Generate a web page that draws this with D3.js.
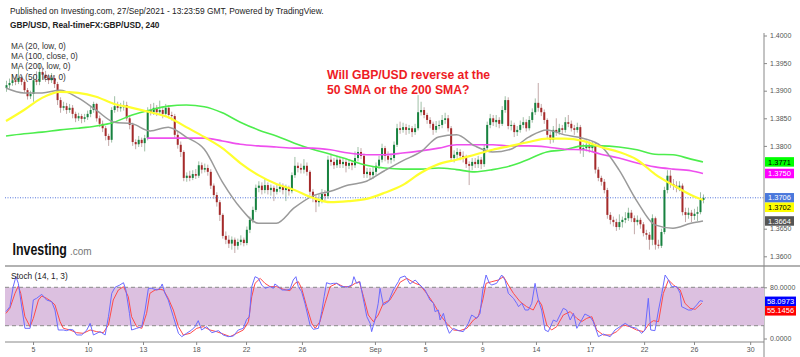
<!DOCTYPE html>
<html><head><meta charset="utf-8">
<script src="https://cdn.jsdelivr.net/npm/d3@7"></script>
<style>body{margin:0;background:#fff}svg{display:block;font-family:"Liberation Sans",Arial,sans-serif}</style>
</head><body><svg id="c" width="800" height="357"></svg>
<script>
// ---------- DATA ----------
const firstOpen = 1.3905;
const closes = [1.3910,1.3914,1.3919,1.3916,1.3923,1.3916,1.3901,1.3890,1.3894,1.3919,
1.3916,1.3934,1.3929,1.3923,1.3919,1.3923,1.3912,1.3883,1.3869,1.3872,
1.3865,1.3869,1.3858,1.3850,1.3854,1.3849,1.3852,1.3858,1.3865,1.3876,
1.3850,1.3840,1.3832,1.3818,1.3811,1.3865,1.3872,1.3869,1.3870,1.3874,
1.3850,1.3838,1.3807,1.3803,1.3811,1.3805,1.3814,1.3865,1.3861,1.3869,
1.3861,1.3865,1.3858,1.3869,1.3856,1.3854,1.3820,1.3802,1.3789,1.3742,
1.3746,1.3742,1.3749,1.3746,1.3765,1.3757,1.3760,1.3753,1.3728,1.3711,
1.3698,1.3675,1.3637,1.3630,1.3623,1.3630,1.3619,1.3626,1.3630,1.3624,
1.3648,1.3666,1.3684,1.3724,1.3728,1.3720,1.3729,1.3720,1.3724,1.3717,
1.3722,1.3726,1.3720,1.3724,1.3718,1.3747,1.3764,1.3760,1.3757,1.3764,
1.3753,1.3717,1.3706,1.3698,1.3702,1.3713,1.3709,1.3775,1.3771,1.3765,
1.3775,1.3767,1.3771,1.3764,1.3769,1.3765,1.3778,1.3789,1.3782,1.3749,
1.3753,1.3747,1.3753,1.3764,1.3775,1.3796,1.3782,1.3775,1.3778,1.3802,
1.3832,1.3829,1.3834,1.3829,1.3832,1.3825,1.3832,1.3861,1.3865,1.3856,
1.3847,1.3840,1.3829,1.3836,1.3838,1.3847,1.3850,1.3832,1.3778,1.3784,
1.3789,1.3782,1.3778,1.3767,1.3764,1.3771,1.3767,1.3775,1.3767,1.3796,
1.3838,1.3850,1.3843,1.3847,1.3840,1.3865,1.3883,1.3836,1.3838,1.3825,
1.3829,1.3838,1.3843,1.3832,1.3847,1.3861,1.3878,1.3869,1.3861,1.3847,
1.3820,1.3811,1.3829,1.3825,1.3832,1.3829,1.3843,1.3840,1.3832,1.3829,
1.3834,1.3793,1.3796,1.3802,1.3796,1.3802,1.3757,1.3742,1.3735,1.3720,
1.3675,1.3666,1.3662,1.3653,1.3662,1.3666,1.3669,1.3679,1.3669,1.3662,
1.3666,1.3658,1.3642,1.3639,1.3630,1.3669,1.3621,1.3619,1.3644,1.3720,
1.3746,1.3731,1.3728,1.3724,1.3728,1.3680,1.3675,1.3679,1.3673,1.3677,
1.3680,1.3702,1.3706];
const highs = [1.3918,1.3922,1.3930,1.3925,1.3940,1.3928,1.3920,1.3905,1.3900,1.3926,
1.3935,1.3948,1.3944,1.3936,1.3930,1.3932,1.3928,1.3916,1.3888,1.3880,
1.3878,1.3876,1.3874,1.3862,1.3860,1.3858,1.3858,1.3864,1.3872,1.3880,
1.3878,1.3855,1.3846,1.3836,1.3822,1.3870,1.3890,1.3880,1.3878,1.3882,
1.3880,1.3855,1.3842,1.3812,1.3818,1.3815,1.3820,1.3870,1.3876,1.3878,
1.3874,1.3882,1.3870,1.3876,1.3874,1.3862,1.3858,1.3826,1.3808,1.3792,
1.3752,1.3755,1.3756,1.3758,1.3772,1.3770,1.3768,1.3766,1.3758,1.3732,
1.3716,1.3702,1.3678,1.3645,1.3638,1.3636,1.3634,1.3632,1.3638,1.3634,
1.3654,1.3672,1.3690,1.3730,1.3736,1.3734,1.3740,1.3734,1.3730,1.3728,
1.3730,1.3734,1.3732,1.3730,1.3728,1.3752,1.3780,1.3770,1.3768,1.3776,
1.3770,1.3756,1.3722,1.3710,1.3712,1.3722,1.3720,1.3782,1.3786,1.3778,
1.3782,1.3780,1.3778,1.3776,1.3776,1.3774,1.3790,1.3798,1.3796,1.3786,
1.3760,1.3760,1.3762,1.3770,1.3782,1.3804,1.3800,1.3790,1.3786,1.3808,
1.3840,1.3844,1.3842,1.3840,1.3838,1.3836,1.3840,1.3892,1.3880,1.3870,
1.3860,1.3852,1.3844,1.3845,1.3846,1.3856,1.3860,1.3856,1.3836,1.3792,
1.3796,1.3794,1.3790,1.3784,1.3772,1.3778,1.3778,1.3782,1.3780,1.3802,
1.3844,1.3858,1.3856,1.3856,1.3852,1.3872,1.3890,1.3888,1.3846,1.3842,
1.3836,1.3846,1.3852,1.3848,1.3854,1.3868,1.3886,1.3914,1.3876,1.3866,
1.3850,1.3826,1.3836,1.3850,1.3840,1.3838,1.3852,1.3856,1.3846,1.3838,
1.3842,1.3838,1.3804,1.3810,1.3808,1.3808,1.3806,1.3762,1.3746,1.3740,
1.3724,1.3680,1.3672,1.3668,1.3676,1.3672,1.3680,1.3688,1.3684,1.3674,
1.3674,1.3670,1.3662,1.3648,1.3644,1.3676,1.3672,1.3630,1.3650,1.3726,
1.3756,1.3756,1.3740,1.3736,1.3736,1.3732,1.3688,1.3688,1.3684,1.3686,
1.3690,1.3716,1.3712];
const lows = [1.3898,1.3904,1.3909,1.3910,1.3912,1.3910,1.3896,1.3884,1.3885,1.3880,
1.3910,1.3910,1.3920,1.3916,1.3912,1.3914,1.3905,1.3874,1.3860,1.3864,
1.3858,1.3860,1.3850,1.3843,1.3845,1.3841,1.3843,1.3847,1.3852,1.3860,
1.3844,1.3834,1.3825,1.3810,1.3800,1.3806,1.3860,1.3862,1.3862,1.3864,
1.3845,1.3830,1.3800,1.3794,1.3798,1.3798,1.3790,1.3810,1.3855,1.3856,
1.3854,1.3856,1.3850,1.3852,1.3850,1.3846,1.3815,1.3795,1.3780,1.3736,
1.3735,1.3736,1.3738,1.3740,1.3742,1.3750,1.3752,1.3746,1.3722,1.3704,
1.3690,1.3664,1.3632,1.3622,1.3615,1.3612,1.3606,1.3612,1.3620,1.3618,
1.3620,1.3642,1.3660,1.3680,1.3716,1.3712,1.3714,1.3712,1.3710,1.3700,
1.3712,1.3716,1.3712,1.3700,1.3710,1.3714,1.3742,1.3752,1.3750,1.3750,
1.3746,1.3710,1.3698,1.3680,1.3690,1.3696,1.3700,1.3704,1.3764,1.3758,
1.3760,1.3760,1.3760,1.3752,1.3758,1.3756,1.3760,1.3772,1.3776,1.3742,
1.3742,1.3740,1.3740,1.3746,1.3758,1.3770,1.3772,1.3768,1.3768,1.3772,
1.3798,1.3822,1.3824,1.3820,1.3822,1.3816,1.3820,1.3828,1.3855,1.3850,
1.3840,1.3832,1.3820,1.3824,1.3830,1.3832,1.3840,1.3826,1.3772,1.3770,
1.3776,1.3774,1.3770,1.3760,1.3729,1.3756,1.3760,1.3760,1.3758,1.3762,
1.3790,1.3832,1.3836,1.3834,1.3832,1.3836,1.3860,1.3830,1.3828,1.3816,
1.3818,1.3824,1.3832,1.3826,1.3828,1.3842,1.3856,1.3862,1.3854,1.3840,
1.3814,1.3804,1.3806,1.3818,1.3820,1.3822,1.3824,1.3834,1.3826,1.3820,
1.3824,1.3786,1.3780,1.3790,1.3788,1.3790,1.3750,1.3736,1.3728,1.3714,
1.3668,1.3658,1.3654,1.3646,1.3648,1.3652,1.3660,1.3664,1.3662,1.3640,
1.3656,1.3650,1.3636,1.3630,1.3612,1.3620,1.3612,1.3614,1.3615,1.3640,
1.3714,1.3724,1.3720,1.3716,1.3718,1.3674,1.3662,1.3668,1.3662,1.3666,
1.3664,1.3676,1.3696];

const maBars = [0,6,12,18,24,30,36,42,48,54,60,66,72,78,84,90,96,102,108,114,120,126,132,138,144,150,156,162,168,174,180,186,192,198,204,210,216,222,228,232];
const ma20 = [1.3905,1.3896,1.3896,1.3901,1.3887,1.3865,1.3843,1.3840,1.3827,1.3834,1.3816,1.3794,1.3735,1.3688,1.3660,1.3660,1.3688,1.3709,1.3718,1.3729,1.3736,1.3755,1.3773,1.3789,1.3816,1.3820,1.3800,1.3789,1.3794,1.3816,1.3829,1.3820,1.3814,1.3800,1.3757,1.3700,1.3657,1.3651,1.3660,1.3664];
const ma50 = [1.3845,1.3865,1.3887,1.3898,1.3896,1.3889,1.3876,1.3869,1.3861,1.3852,1.3834,1.3816,1.3796,1.3769,1.3747,1.3731,1.3720,1.3706,1.3698,1.3700,1.3704,1.3715,1.3729,1.3751,1.3767,1.3775,1.3784,1.3793,1.3800,1.3807,1.3813,1.3813,1.3809,1.3798,1.3789,1.3775,1.3749,1.3729,1.3711,1.3702];
const ma100 = [1.3818,1.3822,1.3825,1.3829,1.3832,1.3836,1.3843,1.3856,1.3865,1.3872,1.3874,1.3871,1.3860,1.3843,1.3829,1.3818,1.3805,1.3794,1.3785,1.3775,1.3765,1.3760,1.3758,1.3758,1.3760,1.3757,1.3753,1.3757,1.3764,1.3776,1.3789,1.3793,1.3800,1.3800,1.3798,1.3793,1.3785,1.3784,1.3776,1.3771];
const ma200Bars = [47,48,54,60,66,72,78,84,90,96,102,108,114,120,126,132,138,144,150,156,162,168,174,180,186,192,198,204,210,216,222,228,232];
const ma200 = [1.3814,1.3814,1.3814,1.3814,1.3814,1.3809,1.3803,1.3800,1.3798,1.3796,1.3796,1.3793,1.3787,1.3784,1.3784,1.3787,1.3791,1.3796,1.3802,1.3802,1.3802,1.3800,1.3800,1.3798,1.3794,1.3793,1.3785,1.3778,1.3769,1.3762,1.3758,1.3755,1.3750];

const stochK = [[0,42.0],[1.3,49.7],[2.4,81.0],[3.3,96.6],[4.1,86.2],[4.9,60.2],[6.3,15.9],[8.0,15.9],[9.1,60.2],[10.2,62.8],
[11.9,69.0],[13.5,60.2],[15.2,57.6],[16.3,44.5],[17.4,13.3],[19.1,13.3],[20.2,12.3],[21.3,14.3],[22.4,13.3],[23.5,5.5],
[25.2,5.5],[26.9,13.3],[28.0,23.7],[29.1,5.5],[31.3,10.7],[33.0,5.5],[34.1,34.1],[35.2,70.6],[36.3,80.0],[37.9,83.6],
[39.1,87.2],[39.9,75.8],[41.1,39.3],[41.8,13.3],[43.5,15.9],[45.2,18.5],[46.3,44.5],[47.4,78.4],[48.5,78.4],[50.2,75.8],
[51.3,78.4],[52.0,85.2],[52.9,70.6],[54.0,60.2],[55.7,34.1],[57.4,8.1],[58.5,2.9],[60.1,8.1],[61.8,13.3],[62.9,18.5],
[64.0,27.9],[65.1,13.3],[66.8,18.5],[68.5,9.1],[70.7,12.3],[72.3,5.5],[74.0,2.9],[75.7,3.9],[77.3,13.3],[79.0,15.9],
[80.1,30.0],[81.0,34.1],[81.8,81.0],[82.9,96.6],[84.0,94.0],[85.1,83.6],[86.2,78.4],[87.9,81.0],[89.0,78.4],[89.5,85.2],
[90.7,81.0],[91.8,75.8],[93.4,75.8],[94.5,76.8],[95.6,91.4],[96.5,96.6],[97.3,81.0],[98.4,73.2],[99.5,55.0],[101.2,21.1],
[102.3,14.3],[104.0,15.9],[105.1,42.0],[105.9,65.4],[106.7,87.2],[107.9,85.2],[109.0,86.2],[110.1,86.2],[111.2,82.0],[113.4,80.0],
[115.1,83.6],[115.8,96.6],[116.7,86.2],[117.8,88.8],[119.0,60.2],[120.1,34.1],[121.2,23.7],[121.7,10.7],[122.8,28.9],[123.9,55.0],
[124.5,78.4],[125.6,52.4],[127.3,57.6],[128.9,75.8],[130.6,88.8],[131.2,95.0],
[132.8,97.7],[134.5,85.2],[136.2,91.4],[137.8,83.6],[139.5,75.8],[141.1,60.2],[142.3,55.0],[142.8,42.0],[143.9,44.5],[144.5,28.9],
[145.6,39.3],[146.7,18.5],[147.6,8.1],[148.9,15.9],[150.6,12.3],[152.2,10.7],[153.9,23.7],[155.0,36.7],[156.7,31.5],[157.8,39.3],
[158.7,75.8],[159.8,99.2],[160.9,86.2],[161.7,83.6],[163.3,86.2],[165.0,99.2],[166.1,91.4],[167.2,70.6],[168.9,62.8],[170.0,55.0],
[170.6,49.7],[171.7,55.0],[172.8,44.5],[173.9,44.5],[175.0,55.0],[176.1,86.2],[177.2,60.2],[178.3,44.5],[179.4,13.3],[180.5,10.7],
[182.2,28.9],[183.3,26.3],[185.5,47.2],[186.6,44.5],[187.8,28.9],[188.9,39.3],[190.0,15.9],[191.6,28.9],[192.7,38.3],[194.4,34.1],
[195.5,26.3],[197.2,2.9],[198.8,7.0],[201.1,2.9],[202.7,13.3],[204.4,18.5],[206.1,23.7],[207.7,18.5],[209.9,15.9],[211.6,8.1],
[212.7,13.3],[213.8,62.8],[214.6,13.3],[216.0,12.3],[217.2,44.5],[218.3,70.6],[219.4,99.2],[220.5,91.4],[221.6,81.0],[223.3,81.0],
[224.4,70.6],[224.9,49.7],[226.0,47.2],[227.1,44.5],[228.3,44.5],[229.9,52.4],[231.0,59.1],[232.0,58.1]];
const stochD = [[0,39.3],[1.3,47.2],[3.0,70.6],[4.1,82.0],[4.9,70.6],[6.3,34.1],[8.0,18.5],[9.1,31.5],[10.8,60.2],[11.9,66.4],
[13.5,62.8],[15.2,57.6],[16.3,52.4],[18.0,26.3],[19.1,15.9],[21.3,13.3],[23.5,9.1],[25.7,8.1],[28.0,13.3],[30.2,10.7],
[32.4,9.1],[34.1,21.1],[35.7,60.2],[37.4,75.8],[39.1,81.0],[40.7,65.4],[41.8,34.1],[43.5,18.5],[45.2,15.9],[46.8,39.3],
[47.9,70.6],[49.6,75.8],[51.3,76.8],[52.4,75.8],[54.0,62.8],[55.7,44.5],[57.4,18.5],[59.0,5.5],[61.3,8.1],[63.5,15.9],
[65.7,18.5],[67.9,13.3],[70.1,10.7],[72.3,7.0],[74.6,2.9],[76.8,8.1],[79.0,13.3],[80.7,26.3],[81.8,65.4],[82.9,86.2],
[84.6,94.0],[86.2,86.2],[87.9,81.0],[90.1,81.0],[92.3,76.8],[94.5,74.7],[96.2,86.2],[97.3,88.8],[98.4,78.4],[100.1,49.7],
[101.8,23.7],[102.9,15.9],[104.5,26.3],[106.2,55.0],[107.9,81.0],[110.1,86.2],[112.3,81.0],[114.5,81.0],[116.2,86.2],[117.6,88.8],
[119.0,65.4],[120.6,36.7],[122.3,26.3],[123.9,36.7],[125.6,55.0],[127.8,60.2],[129.5,73.2],[131.2,88.0],[133.4,94.0],[136.2,86.2],
[137.8,83.6],[140.0,70.6],[142.3,55.0],[144.5,36.7],[146.7,23.7],[148.9,13.3],[151.1,12.3],[153.4,15.9],[155.6,28.9],[157.2,34.1],
[158.7,60.2],[159.8,86.2],[161.7,88.8],[163.9,91.4],[165.6,96.6],[167.2,83.6],[168.9,70.6],[171.1,57.6],[173.3,49.7],[175.5,44.5],
[177.2,60.2],[178.3,52.4],[180.0,21.1],[181.6,13.3],[183.3,18.5],[185.5,36.7],[187.8,42.0],[190.0,31.5],[191.6,26.3],[193.3,31.5],
[195.0,34.1],[196.6,13.3],[198.8,5.5],[201.1,5.5],[203.3,10.7],[205.5,21.1],[207.7,18.5],[209.9,13.3],[212.2,10.7],[214.2,23.7],
[215.5,27.9],[217.2,26.3],[218.8,70.6],[220.5,91.4],[222.2,83.6],[224.4,75.8],[226.0,55.0],[227.7,47.2],[229.4,45.6],[231.6,55.1]];

const priceTicks = [1.36,1.365,1.37,1.375,1.38,1.385,1.39,1.395,1.40];
const stochTicks = [0,80];
const dateTickBars = [9,27.3,45.6,63.3,79.9,98.5,122.8,139.5,158.5,176.4,194.4,212.4,229,247.7];
const dateTickLabels = ["5","10","13","18","22","26","Sep","5","9","14","17","22","26","30"];
const priceBadges = [
  {value:1.3771, bg:"#00ff00", fg:"#000"},
  {value:1.3750, bg:"#ff00ff", fg:"#fff"},
  {value:1.3706, bg:"#4a78dc", fg:"#fff"},
  {value:1.3702, bg:"#ffff00", fg:"#000"},
  {value:1.3664, bg:"#555555", fg:"#fff"}];
const stochBadges = [
  {value:58.0973, bg:"#0000ff", fg:"#fff"},
  {value:55.1456, bg:"#ff0000", fg:"#fff"}];
const lastPrice = 1.3706;

// ---------- DRAW ----------
const svg = d3.select("#c");
const AX = 764, L = 5;
const x = d3.scaleLinear().domain([0,232]).range([6,703]);
const y = d3.scaleLinear().domain([1.36,1.40]).range([256.3,35.5]);
const ys = d3.scaleLinear().domain([0,100]).range([338.5,274.5]);

const bars = closes.map((c,i)=>({i, o: i===0?firstOpen:closes[i-1], c, h:highs[i], l:lows[i]}));

// candles
const cg = svg.append("g");
cg.selectAll("line.w").data(bars).join("line")
  .attr("x1",d=>x(d.i)+0.5).attr("x2",d=>x(d.i)+0.5)
  .attr("y1",d=>y(d.h)).attr("y2",d=>y(d.l))
  .attr("stroke",d=>d.c>=d.o?"#9fbfa6":"#c3a9a9").attr("stroke-width",1);
cg.selectAll("rect").data(bars).join("rect")
  .attr("x",d=>x(d.i)-0.5).attr("width",2)
  .attr("y",d=>y(Math.max(d.o,d.c)))
  .attr("height",d=>Math.max(1,Math.abs(y(d.o)-y(d.c))))
  .attr("fill",d=>d.c>=d.o?"#17823f":"#a52a2a");

// last price dotted line
svg.append("line").attr("x1",L).attr("x2",AX).attr("y1",y(lastPrice)).attr("y2",y(lastPrice))
  .attr("stroke","#5577dd").attr("stroke-width",1).attr("stroke-dasharray","1,1.5");

// moving averages
const lineGen = d3.line().curve(d3.curveMonotoneX);
function ma(barsArr, vals, color, w){
  svg.append("path").attr("d", lineGen(vals.map((v,k)=>[x(barsArr[k]), y(v)])))
    .attr("fill","none").attr("stroke",color).attr("stroke-width",w).attr("stroke-linejoin","round");
}
ma(maBars, ma100, "#4ded4d", 1.6);
ma(ma200Bars, ma200, "#ee4fee", 1.6);
ma(maBars, ma20, "#9a9a9a", 1.5);
ma(maBars, ma50, "#ffff2e", 2.2);

// header texts
const tx = (t,xx,yy,size,opts={}) => svg.append("text").attr("x",xx).attr("y",yy).attr("font-size",size)
  .attr("fill",opts.fill||"#222").attr("font-weight",opts.bold?"bold":"normal").text(t);
tx("Published on Investing.com, 27/Sep/2021 - 13:23:59 GMT, Powered by TradingView.",10,13.5,8.4);
tx("GBP/USD, Real-timeFX:GBP/USD, 240",10,27.5,8.3,{bold:true});
["MA (20, low, 0)","MA (100, close, 0)","MA (200, low, 0)","MA (50, low, 0)"].forEach((t,k)=>tx(t,11,48.5+k*10.4,8.3,{fill:"#333"}));
tx("Will GBP/USD reverse at the",327,78.5,12.2,{bold:true,fill:"#ee1c25"});
tx("50 SMA or the 200 SMA?",327,93.5,12.2,{bold:true,fill:"#ee1c25"});

// Investing logo: condensed wordmark (vertically stretched bold text) + ".com"
svg.append("text").attr("transform","translate(12.5,254.5) scale(1,1.3)")
  .attr("font-size",12.4).attr("font-weight","bold").attr("fill","#111").text("Investing");
svg.append("text").attr("x",70).attr("y",254.5).attr("font-size",10).attr("fill","#777").text(".com");

// panel separators
svg.append("line").attr("x1",L).attr("x2",800).attr("y1",266).attr("y2",266).attr("stroke","#999").attr("stroke-width",1.5);
svg.append("line").attr("x1",AX).attr("x2",AX).attr("y1",33).attr("y2",357).attr("stroke","#888").attr("stroke-width",1);

// stoch band
svg.append("rect").attr("x",L).attr("width",AX-L).attr("y",ys(80)).attr("height",ys(20)-ys(80)).attr("fill","#dcc0e0");
[80,20].forEach(v=>svg.append("line").attr("x1",L).attr("x2",AX).attr("y1",ys(v)).attr("y2",ys(v))
  .attr("stroke","#8a8a8a").attr("stroke-width",1).attr("stroke-dasharray","4,3"));
const sline = d3.line().x(d=>x(d[0])).y(d=>ys(d[1]));
svg.append("path").attr("d",sline(stochD)).attr("fill","none").attr("stroke","#ff4a4a").attr("stroke-width",1);
svg.append("path").attr("d",sline(stochK)).attr("fill","none").attr("stroke","#6b6bff").attr("stroke-width",1);
tx("Stoch (14, 1, 3)",11,278.5,8.3,{fill:"#222"});

// badge layout (computed first so that covered tick labels can be hidden)
function layoutBadges(list, scale, h){
  const items = list.map(b=>({...b, yy: scale(b.value)})).sort((a,b)=>a.yy-b.yy);
  for(let k=1;k<items.length;k++) if(items[k].yy < items[k-1].yy + h) items[k].yy = items[k-1].yy + h;
  return items;
}
const BH = 9.5;
const pb = layoutBadges(priceBadges, y, BH);
const sb = layoutBadges(stochBadges, ys, BH);

// axes
function styleAxis(g){
  g.select(".domain").remove();
  g.selectAll(".tick line").attr("stroke","#888");
  g.selectAll(".tick text").attr("fill","#555").attr("font-size",7).attr("font-family","Liberation Sans, Arial, sans-serif");
}
const visiblePriceTicks = priceTicks.filter(t=>!pb.some(b=>Math.abs(b.yy - y(t)) < 7));
svg.append("g").attr("transform",`translate(${AX},0)`)
  .call(d3.axisRight(y).tickValues(visiblePriceTicks).tickFormat(d3.format(".4f")).tickSize(3).tickPadding(3)).call(styleAxis);
svg.append("g").attr("transform",`translate(${AX},0)`)
  .call(d3.axisRight(ys).tickValues(stochTicks).tickFormat(d3.format(".4f")).tickSize(3).tickPadding(3)).call(styleAxis);
svg.append("line").attr("x1",L).attr("x2",AX).attr("y1",342).attr("y2",342).attr("stroke","#888").attr("stroke-width",1);
svg.append("g").attr("transform","translate(0,342)")
  .call(d3.axisBottom(x).tickValues(dateTickBars).tickFormat((d,k)=>dateTickLabels[k]).tickSize(3).tickPadding(2)).call(styleAxis);

// badges
function drawBadges(items, w){
  const g = svg.append("g");
  items.forEach(b=>{
    g.append("rect").attr("x",AX+1).attr("y",b.yy-BH/2).attr("width",w).attr("height",BH).attr("fill",b.bg);
    g.append("text").attr("x",AX+1+w/2).attr("y",b.yy+2.6).attr("text-anchor","middle").attr("font-size",7.5)
      .attr("fill",b.fg).text(b.value.toFixed(4));
  });
}
drawBadges(pb, 29);
drawBadges(sb, 31);
</script></body></html>
